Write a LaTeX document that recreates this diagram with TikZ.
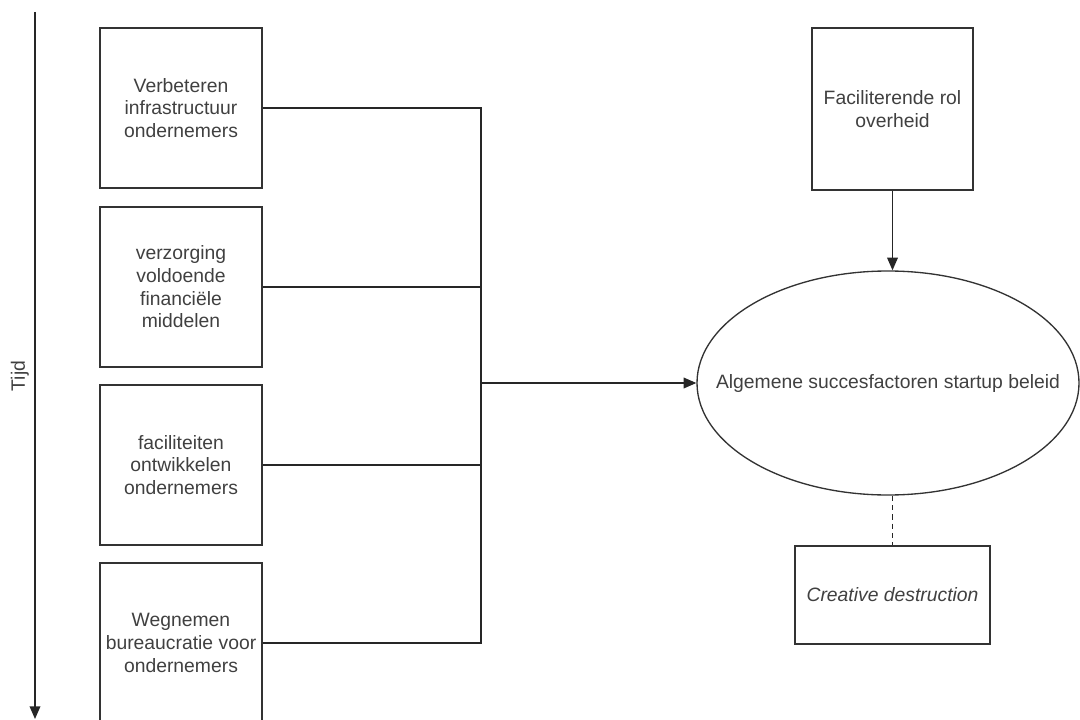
\documentclass[tikz,border=0pt]{standalone}
\usepackage{fontspec}
\setmainfont{Liberation Sans}
\usetikzlibrary{arrows.meta,shapes.geometric}
\begin{document}
\begin{tikzpicture}[x=0.75pt,y=-0.75pt,
  line width=1pt,
  every node/.style={font=\fontsize{14.5}{17}\selectfont, text=black!75, align=center},
  box/.style={draw=black!80, minimum width=162*0.75pt, minimum height=160*0.75pt, inner sep=0pt},
  conn/.style={draw=black!85},
  arr/.style={conn,-{Triangle[length=9.5pt,width=8pt]}}]
\useasboundingbox (0,0) rectangle (1080,720);
% time axis
\coordinate (t0) at (35,12);
\coordinate (t1) at (35,719);
\draw[arr] (t0) -- (t1);
\node[rotate=90] (tijd) at (20,376) {Tijd};
% left boxes
\node[box] (b1) at (181,108) {Verbeteren\\infrastructuur\\ondernemers};
\node[box] (b2) at (181,287) {verzorging\\voldoende\\financiële\\middelen};
\node[box] (b3) at (181,465) {faciliteiten\\ontwikkelen\\ondernemers};
\node[box] (b4) at (181,643) {Wegnemen\\bureaucratie voor\\ondernemers};
% ellipse
\node[draw=black!80, ellipse, minimum width=382*0.75pt, minimum height=224*0.75pt, inner sep=0pt] (e) at (888,383) {};
\node (elabel) at (e.center) {Algemene succesfactoren startup beleid};
\node[box, minimum width=161*0.75pt, minimum height=162*0.75pt] (f) at (892.5,109) {Faciliterende rol\\overheid};
\node[box, minimum width=195*0.75pt, minimum height=98*0.75pt, font=\fontsize{14.5}{17}\selectfont\itshape] (c) at (892.5,595) {Creative destruction};
% connectors
\coordinate (j) at (481,383);
\draw[conn] (b1.east) -| (j);
\draw[conn] (b2.east) -| (j);
\draw[conn] (b3.east) -| (j);
\draw[conn] (b4.east) -| (j);
\draw[arr] (j) -- (e.west);
\draw[arr] (f.south) -- (f.south |- e.north);
\draw[conn, dashed, dash pattern=on 4pt off 3pt] (c.north |- e.south) -- (c.north);
\end{tikzpicture}
\end{document}
